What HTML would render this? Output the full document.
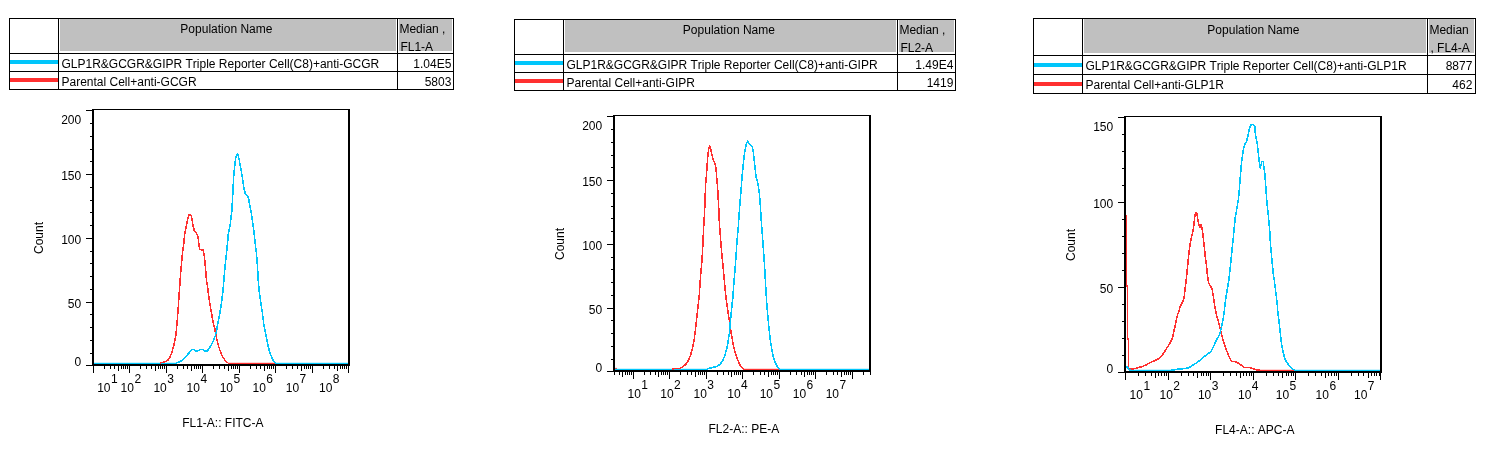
<!DOCTYPE html>
<html><head><meta charset="utf-8"><title>Flow cytometry</title>
<style>
html,body{margin:0;padding:0;background:#fff;}
body{width:1495px;height:449px;position:relative;overflow:hidden;font-family:"Liberation Sans",sans-serif;font-size:12px;color:#000;font-kerning:none;}
svg{position:absolute;left:0;top:0;}
#tx{position:absolute;left:0;top:0;width:1495px;height:449px;will-change:transform;}
.t{position:absolute;white-space:pre;line-height:14px;height:14px;font-size:12px;}
.r{transform:translateX(-100%);}
.c{transform:translateX(-50%);}
.rot{transform:translate(-50%,-50%) rotate(-90deg);}
</style></head><body>
<svg width="1495" height="449" viewBox="0 0 1495 449">
<rect x="60" y="19" width="336" height="32" fill="#c0c0c0"/>
<rect x="399" y="19" width="53" height="32" fill="#c0c0c0"/>
<rect x="9" y="18" width="1" height="72" fill="#000"/>
<rect x="58" y="18" width="1" height="72" fill="#000"/>
<rect x="397" y="18" width="1" height="72" fill="#000"/>
<rect x="453" y="18" width="1" height="72" fill="#000"/>
<rect x="9" y="18" width="445" height="1" fill="#000"/>
<rect x="9" y="53" width="445" height="1" fill="#000"/>
<rect x="9" y="71" width="445" height="1" fill="#000"/>
<rect x="9" y="89" width="445" height="1" fill="#000"/>
<rect x="10" y="60" width="48" height="4" fill="#00c6fb"/>
<rect x="10" y="78" width="48" height="4" fill="#ff3030"/>
<rect x="565" y="20" width="331" height="32" fill="#c0c0c0"/>
<rect x="899" y="20" width="55" height="32" fill="#c0c0c0"/>
<rect x="514" y="19" width="1" height="72" fill="#000"/>
<rect x="563" y="19" width="1" height="72" fill="#000"/>
<rect x="897" y="19" width="1" height="72" fill="#000"/>
<rect x="955" y="19" width="1" height="72" fill="#000"/>
<rect x="514" y="19" width="442" height="1" fill="#000"/>
<rect x="514" y="54" width="442" height="1" fill="#000"/>
<rect x="514" y="72" width="442" height="1" fill="#000"/>
<rect x="514" y="90" width="442" height="1" fill="#000"/>
<rect x="515" y="61" width="48" height="4" fill="#00c6fb"/>
<rect x="515" y="79" width="48" height="4" fill="#ff3030"/>
<rect x="1084" y="19" width="342" height="34" fill="#c0c0c0"/>
<rect x="1429" y="19" width="45" height="34" fill="#c0c0c0"/>
<rect x="1033" y="18" width="1" height="76" fill="#000"/>
<rect x="1082" y="18" width="1" height="76" fill="#000"/>
<rect x="1427" y="18" width="1" height="76" fill="#000"/>
<rect x="1475" y="18" width="1" height="76" fill="#000"/>
<rect x="1033" y="18" width="443" height="1" fill="#000"/>
<rect x="1033" y="55" width="443" height="1" fill="#000"/>
<rect x="1033" y="74" width="443" height="1" fill="#000"/>
<rect x="1033" y="93" width="443" height="1" fill="#000"/>
<rect x="1034" y="63" width="48" height="4" fill="#00c6fb"/>
<rect x="1034" y="82" width="48" height="4" fill="#ff3030"/>
<rect x="94" y="362.8" width="82" height="1.25" fill="#00c6fb"/>
<rect x="228" y="362.8" width="47" height="1.25" fill="#ff3030"/>
<rect x="275" y="362.8" width="73" height="1.25" fill="#00c6fb"/>
<polyline points="160.0,362.9 165.0,361.8 168.0,360.0 170.0,357.0 172.0,352.0 174.0,345.0 175.6,337.0 176.6,328.0 177.1,322.0 178.1,310.0 179.1,295.0 179.8,285.0 180.6,274.0 181.6,262.0 182.6,252.0 183.6,245.0 184.6,235.0 186.1,227.0 187.6,219.0 189.1,215.0 190.1,214.3 191.1,215.5 192.1,220.0 193.1,226.0 194.1,230.0 195.1,231.6 196.7,233.6 197.7,236.0 198.5,240.0 199.0,246.0 199.7,249.0 201.2,249.7 203.2,250.0 204.2,255.0 205.0,263.0 205.8,272.0 206.5,280.0 207.7,288.0 208.5,295.0 210.2,306.0 212.2,317.0 213.2,323.0 214.7,328.0 216.2,337.0 218.2,345.0 220.2,351.0 222.2,356.0 225.2,360.6 227.8,362.9" fill="none" stroke="#ff3030" stroke-width="1.55" stroke-linejoin="round" shape-rendering="crispEdges"/>
<polyline points="176.0,363.0 179.1,362.0 182.1,360.6 185.1,357.6 188.1,354.0 190.6,351.0 192.6,349.3 194.1,349.6 195.6,350.8 198.2,350.8 200.2,349.6 202.7,349.6 204.7,350.9 207.2,350.9 209.2,348.6 211.2,345.0 213.2,341.0 215.2,336.0 216.7,330.0 217.9,323.0 219.2,317.0 221.2,305.0 222.7,293.0 223.7,283.0 224.7,270.0 226.3,255.0 227.8,240.0 228.3,234.0 230.3,224.0 231.8,211.0 232.5,200.0 233.0,190.5 233.6,177.0 234.8,165.0 235.8,157.7 236.8,154.6 237.2,154.2 238.1,155.0 239.2,159.7 240.4,166.4 241.7,173.7 243.0,181.8 244.1,189.0 245.1,193.0 246.1,194.7 247.9,196.2 248.8,199.8 249.6,205.0 250.8,210.0 252.3,220.0 253.8,230.0 254.8,240.0 256.4,253.0 257.4,265.0 258.2,280.0 259.4,293.0 260.9,303.0 262.4,313.0 263.6,323.0 264.9,330.0 266.4,338.0 267.9,345.0 269.4,351.0 271.4,356.6 273.4,360.6 275.4,363.0" fill="none" stroke="#00c6fb" stroke-width="1.55" stroke-linejoin="round" shape-rendering="crispEdges"/>
<rect x="92" y="109" width="2" height="257" fill="#000"/>
<rect x="348" y="109" width="2" height="257" fill="#000"/>
<rect x="92" y="109" width="258" height="1" fill="#000"/>
<rect x="92" y="364" width="258" height="2" fill="#000"/>
<rect x="86" y="365" width="6" height="1" fill="#000"/>
<rect x="90" y="353" width="2" height="1" fill="#000"/>
<rect x="90" y="340" width="2" height="1" fill="#000"/>
<rect x="90" y="327" width="2" height="1" fill="#000"/>
<rect x="90" y="314" width="2" height="1" fill="#000"/>
<rect x="86" y="302" width="6" height="1" fill="#000"/>
<rect x="90" y="289" width="2" height="1" fill="#000"/>
<rect x="90" y="276" width="2" height="1" fill="#000"/>
<rect x="90" y="263" width="2" height="1" fill="#000"/>
<rect x="90" y="251" width="2" height="1" fill="#000"/>
<rect x="86" y="238" width="6" height="1" fill="#000"/>
<rect x="90" y="225" width="2" height="1" fill="#000"/>
<rect x="90" y="212" width="2" height="1" fill="#000"/>
<rect x="90" y="200" width="2" height="1" fill="#000"/>
<rect x="90" y="187" width="2" height="1" fill="#000"/>
<rect x="86" y="174" width="6" height="1" fill="#000"/>
<rect x="90" y="161" width="2" height="1" fill="#000"/>
<rect x="90" y="149" width="2" height="1" fill="#000"/>
<rect x="90" y="136" width="2" height="1" fill="#000"/>
<rect x="90" y="123" width="2" height="1" fill="#000"/>
<rect x="86" y="110" width="6" height="1" fill="#000"/>
<rect x="93" y="366" width="1" height="7" fill="#000"/>
<rect x="104" y="366" width="1" height="3" fill="#000"/>
<rect x="110" y="366" width="1" height="3" fill="#000"/>
<rect x="114" y="366" width="1" height="3" fill="#000"/>
<rect x="118" y="366" width="1" height="5" fill="#000"/>
<rect x="121" y="366" width="1" height="3" fill="#000"/>
<rect x="123" y="366" width="1" height="3" fill="#000"/>
<rect x="125" y="366" width="1" height="3" fill="#000"/>
<rect x="127" y="366" width="1" height="3" fill="#000"/>
<rect x="129" y="366" width="1" height="7" fill="#000"/>
<rect x="140" y="366" width="1" height="3" fill="#000"/>
<rect x="146" y="366" width="1" height="3" fill="#000"/>
<rect x="151" y="366" width="1" height="3" fill="#000"/>
<rect x="155" y="366" width="1" height="5" fill="#000"/>
<rect x="158" y="366" width="1" height="3" fill="#000"/>
<rect x="160" y="366" width="1" height="3" fill="#000"/>
<rect x="162" y="366" width="1" height="3" fill="#000"/>
<rect x="164" y="366" width="1" height="3" fill="#000"/>
<rect x="166" y="366" width="1" height="7" fill="#000"/>
<rect x="177" y="366" width="1" height="3" fill="#000"/>
<rect x="183" y="366" width="1" height="3" fill="#000"/>
<rect x="187" y="366" width="1" height="3" fill="#000"/>
<rect x="191" y="366" width="1" height="5" fill="#000"/>
<rect x="194" y="366" width="1" height="3" fill="#000"/>
<rect x="196" y="366" width="1" height="3" fill="#000"/>
<rect x="198" y="366" width="1" height="3" fill="#000"/>
<rect x="200" y="366" width="1" height="3" fill="#000"/>
<rect x="202" y="366" width="1" height="7" fill="#000"/>
<rect x="213" y="366" width="1" height="3" fill="#000"/>
<rect x="219" y="366" width="1" height="3" fill="#000"/>
<rect x="224" y="366" width="1" height="3" fill="#000"/>
<rect x="228" y="366" width="1" height="5" fill="#000"/>
<rect x="231" y="366" width="1" height="3" fill="#000"/>
<rect x="233" y="366" width="1" height="3" fill="#000"/>
<rect x="235" y="366" width="1" height="3" fill="#000"/>
<rect x="237" y="366" width="1" height="3" fill="#000"/>
<rect x="239" y="366" width="1" height="7" fill="#000"/>
<rect x="250" y="366" width="1" height="3" fill="#000"/>
<rect x="256" y="366" width="1" height="3" fill="#000"/>
<rect x="260" y="366" width="1" height="3" fill="#000"/>
<rect x="264" y="366" width="1" height="5" fill="#000"/>
<rect x="267" y="366" width="1" height="3" fill="#000"/>
<rect x="269" y="366" width="1" height="3" fill="#000"/>
<rect x="271" y="366" width="1" height="3" fill="#000"/>
<rect x="273" y="366" width="1" height="3" fill="#000"/>
<rect x="275" y="366" width="1" height="7" fill="#000"/>
<rect x="286" y="366" width="1" height="3" fill="#000"/>
<rect x="292" y="366" width="1" height="3" fill="#000"/>
<rect x="297" y="366" width="1" height="3" fill="#000"/>
<rect x="301" y="366" width="1" height="5" fill="#000"/>
<rect x="304" y="366" width="1" height="3" fill="#000"/>
<rect x="306" y="366" width="1" height="3" fill="#000"/>
<rect x="308" y="366" width="1" height="3" fill="#000"/>
<rect x="310" y="366" width="1" height="3" fill="#000"/>
<rect x="312" y="366" width="1" height="7" fill="#000"/>
<rect x="323" y="366" width="1" height="3" fill="#000"/>
<rect x="329" y="366" width="1" height="3" fill="#000"/>
<rect x="334" y="366" width="1" height="3" fill="#000"/>
<rect x="337" y="366" width="1" height="5" fill="#000"/>
<rect x="340" y="366" width="1" height="3" fill="#000"/>
<rect x="342" y="366" width="1" height="3" fill="#000"/>
<rect x="344" y="366" width="1" height="3" fill="#000"/>
<rect x="346" y="366" width="1" height="3" fill="#000"/>
<rect x="348" y="366" width="1" height="7" fill="#000"/>
<rect x="615" y="367.9" width="2" height="1" fill="#ff3030"/>
<rect x="615" y="368.8" width="93" height="1.25" fill="#00c6fb"/>
<rect x="743" y="368.8" width="36" height="1.25" fill="#ff3030"/>
<rect x="779" y="368.8" width="90" height="1.25" fill="#00c6fb"/>
<polyline points="672.0,368.9 680.0,368.3 683.0,366.6 686.0,364.1 688.6,360.1 690.6,355.0 692.6,348.0 694.1,340.0 695.6,328.0 697.6,310.0 699.3,295.0 699.9,285.0 701.1,270.0 702.0,260.0 702.6,250.0 703.6,228.0 704.6,212.0 705.1,198.0 705.6,185.0 706.4,176.0 706.9,168.0 707.9,155.0 708.8,148.0 709.6,146.3 710.6,148.5 711.6,153.0 712.6,157.6 713.8,161.0 715.1,164.0 716.0,169.0 716.6,176.0 717.4,185.0 718.2,198.0 718.8,209.0 719.2,220.0 719.9,230.0 721.2,247.0 722.2,258.0 723.2,268.0 724.7,285.0 726.0,298.0 727.7,310.0 729.7,323.0 731.2,333.0 732.4,340.0 733.7,347.0 735.7,354.0 738.2,361.0 740.7,366.6 743.2,368.9" fill="none" stroke="#ff3030" stroke-width="1.55" stroke-linejoin="round" shape-rendering="crispEdges"/>
<polyline points="707.1,368.8 712.1,367.6 716.2,366.6 719.7,364.6 722.2,361.6 724.7,356.0 726.7,349.0 728.2,341.0 729.4,333.0 730.2,323.0 731.7,308.0 733.0,296.0 733.7,285.0 735.0,270.0 735.9,258.0 736.7,245.0 738.2,228.0 739.1,215.0 739.5,209.0 740.5,197.0 741.4,185.0 742.0,178.0 742.4,173.0 743.2,165.0 744.2,156.0 745.2,149.0 746.5,143.5 747.5,141.3 748.8,143.0 750.3,144.5 752.3,146.5 753.1,151.0 754.1,159.0 755.1,168.0 755.9,176.0 757.8,183.0 759.1,191.0 760.0,201.0 760.8,213.0 761.8,228.0 763.1,245.0 764.0,258.0 764.8,270.0 765.8,288.0 766.5,300.0 767.3,310.0 768.8,327.0 770.3,340.0 771.8,349.0 773.3,357.0 775.4,363.0 777.9,367.6 779.4,369.0" fill="none" stroke="#00c6fb" stroke-width="1.55" stroke-linejoin="round" shape-rendering="crispEdges"/>
<rect x="613" y="115" width="2" height="257" fill="#000"/>
<rect x="869" y="115" width="2" height="257" fill="#000"/>
<rect x="613" y="115" width="258" height="1" fill="#000"/>
<rect x="613" y="370" width="258" height="2" fill="#000"/>
<rect x="607" y="371" width="6" height="1" fill="#000"/>
<rect x="611" y="359" width="2" height="1" fill="#000"/>
<rect x="611" y="346" width="2" height="1" fill="#000"/>
<rect x="611" y="333" width="2" height="1" fill="#000"/>
<rect x="611" y="320" width="2" height="1" fill="#000"/>
<rect x="607" y="308" width="6" height="1" fill="#000"/>
<rect x="611" y="295" width="2" height="1" fill="#000"/>
<rect x="611" y="282" width="2" height="1" fill="#000"/>
<rect x="611" y="269" width="2" height="1" fill="#000"/>
<rect x="611" y="257" width="2" height="1" fill="#000"/>
<rect x="607" y="244" width="6" height="1" fill="#000"/>
<rect x="611" y="231" width="2" height="1" fill="#000"/>
<rect x="611" y="218" width="2" height="1" fill="#000"/>
<rect x="611" y="206" width="2" height="1" fill="#000"/>
<rect x="611" y="193" width="2" height="1" fill="#000"/>
<rect x="607" y="180" width="6" height="1" fill="#000"/>
<rect x="611" y="167" width="2" height="1" fill="#000"/>
<rect x="611" y="155" width="2" height="1" fill="#000"/>
<rect x="611" y="142" width="2" height="1" fill="#000"/>
<rect x="611" y="129" width="2" height="1" fill="#000"/>
<rect x="607" y="116" width="6" height="1" fill="#000"/>
<rect x="614" y="372" width="1" height="3" fill="#000"/>
<rect x="619" y="372" width="1" height="3" fill="#000"/>
<rect x="622" y="372" width="1" height="5" fill="#000"/>
<rect x="625" y="372" width="1" height="3" fill="#000"/>
<rect x="627" y="372" width="1" height="3" fill="#000"/>
<rect x="629" y="372" width="1" height="3" fill="#000"/>
<rect x="631" y="372" width="1" height="3" fill="#000"/>
<rect x="633" y="372" width="1" height="7" fill="#000"/>
<rect x="644" y="372" width="1" height="3" fill="#000"/>
<rect x="650" y="372" width="1" height="3" fill="#000"/>
<rect x="655" y="372" width="1" height="3" fill="#000"/>
<rect x="658" y="372" width="1" height="5" fill="#000"/>
<rect x="661" y="372" width="1" height="3" fill="#000"/>
<rect x="663" y="372" width="1" height="3" fill="#000"/>
<rect x="665" y="372" width="1" height="3" fill="#000"/>
<rect x="667" y="372" width="1" height="3" fill="#000"/>
<rect x="669" y="372" width="1" height="7" fill="#000"/>
<rect x="680" y="372" width="1" height="3" fill="#000"/>
<rect x="687" y="372" width="1" height="3" fill="#000"/>
<rect x="691" y="372" width="1" height="3" fill="#000"/>
<rect x="695" y="372" width="1" height="5" fill="#000"/>
<rect x="698" y="372" width="1" height="3" fill="#000"/>
<rect x="700" y="372" width="1" height="3" fill="#000"/>
<rect x="702" y="372" width="1" height="3" fill="#000"/>
<rect x="704" y="372" width="1" height="3" fill="#000"/>
<rect x="706" y="372" width="1" height="7" fill="#000"/>
<rect x="717" y="372" width="1" height="3" fill="#000"/>
<rect x="723" y="372" width="1" height="3" fill="#000"/>
<rect x="728" y="372" width="1" height="3" fill="#000"/>
<rect x="731" y="372" width="1" height="5" fill="#000"/>
<rect x="734" y="372" width="1" height="3" fill="#000"/>
<rect x="736" y="372" width="1" height="3" fill="#000"/>
<rect x="738" y="372" width="1" height="3" fill="#000"/>
<rect x="740" y="372" width="1" height="3" fill="#000"/>
<rect x="742" y="372" width="1" height="7" fill="#000"/>
<rect x="753" y="372" width="1" height="3" fill="#000"/>
<rect x="760" y="372" width="1" height="3" fill="#000"/>
<rect x="764" y="372" width="1" height="3" fill="#000"/>
<rect x="768" y="372" width="1" height="5" fill="#000"/>
<rect x="771" y="372" width="1" height="3" fill="#000"/>
<rect x="773" y="372" width="1" height="3" fill="#000"/>
<rect x="775" y="372" width="1" height="3" fill="#000"/>
<rect x="777" y="372" width="1" height="3" fill="#000"/>
<rect x="779" y="372" width="1" height="7" fill="#000"/>
<rect x="790" y="372" width="1" height="3" fill="#000"/>
<rect x="796" y="372" width="1" height="3" fill="#000"/>
<rect x="801" y="372" width="1" height="3" fill="#000"/>
<rect x="804" y="372" width="1" height="5" fill="#000"/>
<rect x="807" y="372" width="1" height="3" fill="#000"/>
<rect x="809" y="372" width="1" height="3" fill="#000"/>
<rect x="811" y="372" width="1" height="3" fill="#000"/>
<rect x="813" y="372" width="1" height="3" fill="#000"/>
<rect x="815" y="372" width="1" height="7" fill="#000"/>
<rect x="826" y="372" width="1" height="3" fill="#000"/>
<rect x="833" y="372" width="1" height="3" fill="#000"/>
<rect x="837" y="372" width="1" height="3" fill="#000"/>
<rect x="841" y="372" width="1" height="5" fill="#000"/>
<rect x="844" y="372" width="1" height="3" fill="#000"/>
<rect x="846" y="372" width="1" height="3" fill="#000"/>
<rect x="848" y="372" width="1" height="3" fill="#000"/>
<rect x="850" y="372" width="1" height="3" fill="#000"/>
<rect x="852" y="372" width="1" height="7" fill="#000"/>
<rect x="863" y="372" width="1" height="3" fill="#000"/>
<rect x="870" y="372" width="1" height="3" fill="#000"/>
<rect x="1130" y="369.8" width="42" height="1.25" fill="#00c6fb"/>
<rect x="1259" y="369.8" width="35" height="1.25" fill="#ff3030"/>
<rect x="1294" y="369.8" width="86" height="1.25" fill="#00c6fb"/>
<polyline points="1126.5,215.0 1126.6,285.0 1127.3,287.0 1127.4,337.0 1128.3,340.0 1128.6,369.4 1130.5,369.0 1135.0,368.6 1138.0,367.6 1142.0,366.6 1146.0,365.0 1150.0,362.6 1154.1,361.0 1158.1,359.0 1161.1,356.6 1164.1,352.6 1167.2,347.5 1169.7,343.5 1171.7,339.5 1172.9,336.0 1174.2,330.0 1175.7,323.0 1177.5,315.0 1178.6,312.0 1180.1,307.0 1182.1,303.0 1184.1,298.0 1185.1,289.0 1186.3,279.0 1187.1,271.0 1187.9,263.0 1188.9,253.0 1190.1,244.0 1191.6,237.0 1193.0,231.0 1194.1,223.0 1194.8,216.0 1195.6,213.3 1196.2,212.4 1197.0,214.0 1197.7,219.0 1198.5,223.0 1199.2,226.0 1200.0,227.0 1200.7,224.6 1201.4,225.0 1202.0,228.0 1202.6,232.0 1203.2,237.0 1204.2,246.0 1205.2,256.0 1206.4,265.0 1207.2,273.0 1207.7,277.0 1208.7,283.0 1210.2,285.6 1212.0,288.6 1213.0,294.0 1214.0,301.0 1215.2,309.0 1216.8,316.0 1218.8,323.0 1220.8,331.0 1222.3,337.0 1223.3,341.0 1225.3,347.0 1227.9,354.0 1230.4,359.6 1231.9,361.6 1235.4,361.6 1238.9,363.6 1241.9,365.6 1244.4,367.6 1249.4,367.6 1252.4,368.6 1256.4,369.8 1260.0,370.3" fill="none" stroke="#ff3030" stroke-width="1.55" stroke-linejoin="round" shape-rendering="crispEdges"/>
<polyline points="1126.0,366.6 1127.5,367.0 1129.0,369.6 1130.5,370.3 1171.2,370.3 1179.2,369.0 1185.2,368.6 1189.2,367.6 1192.2,365.6 1196.3,363.0 1200.3,360.0 1204.3,356.6 1208.3,353.6 1211.3,351.0 1213.3,347.0 1215.3,342.5 1217.3,338.5 1219.3,335.0 1220.8,330.0 1222.3,323.0 1223.6,316.0 1224.6,308.0 1225.8,298.0 1227.3,289.0 1228.8,280.0 1230.3,267.0 1231.8,252.0 1233.1,240.0 1234.3,227.0 1235.3,217.0 1236.8,209.0 1238.3,200.0 1239.2,191.0 1239.8,183.0 1240.4,176.0 1241.1,167.0 1242.1,158.0 1243.0,152.0 1243.6,149.0 1244.6,144.6 1246.2,142.6 1247.2,139.0 1248.2,134.6 1249.2,129.6 1250.2,126.0 1251.2,124.7 1252.2,124.3 1253.7,125.2 1254.7,126.0 1255.0,131.0 1256.0,138.0 1257.2,143.0 1258.0,150.0 1258.7,157.0 1259.4,163.0 1260.2,168.0 1261.2,165.0 1261.7,161.5 1263.2,161.5 1263.7,166.0 1264.7,173.0 1265.4,181.0 1266.0,190.0 1266.9,202.0 1268.2,214.0 1269.2,225.0 1269.8,232.0 1270.4,243.0 1271.6,256.0 1272.6,267.0 1273.2,273.0 1274.4,281.0 1275.9,293.0 1277.2,304.0 1277.8,312.0 1279.1,322.0 1280.1,331.0 1281.0,340.0 1281.8,346.0 1283.1,352.0 1284.6,358.0 1286.2,361.6 1289.2,365.6 1292.2,368.6 1294.7,370.3" fill="none" stroke="#00c6fb" stroke-width="1.55" stroke-linejoin="round" shape-rendering="crispEdges"/>
<rect x="1124" y="116" width="2" height="257" fill="#000"/>
<rect x="1380" y="116" width="2" height="257" fill="#000"/>
<rect x="1124" y="116" width="258" height="1" fill="#000"/>
<rect x="1124" y="371" width="258" height="2" fill="#000"/>
<rect x="1118" y="372" width="6" height="1" fill="#000"/>
<rect x="1122" y="355" width="2" height="1" fill="#000"/>
<rect x="1122" y="338" width="2" height="1" fill="#000"/>
<rect x="1122" y="321" width="2" height="1" fill="#000"/>
<rect x="1122" y="304" width="2" height="1" fill="#000"/>
<rect x="1118" y="287" width="6" height="1" fill="#000"/>
<rect x="1122" y="270" width="2" height="1" fill="#000"/>
<rect x="1122" y="253" width="2" height="1" fill="#000"/>
<rect x="1122" y="236" width="2" height="1" fill="#000"/>
<rect x="1122" y="219" width="2" height="1" fill="#000"/>
<rect x="1118" y="202" width="6" height="1" fill="#000"/>
<rect x="1122" y="185" width="2" height="1" fill="#000"/>
<rect x="1122" y="168" width="2" height="1" fill="#000"/>
<rect x="1122" y="151" width="2" height="1" fill="#000"/>
<rect x="1122" y="134" width="2" height="1" fill="#000"/>
<rect x="1118" y="117" width="6" height="1" fill="#000"/>
<rect x="1125" y="373" width="1" height="7" fill="#000"/>
<rect x="1138" y="373" width="1" height="3" fill="#000"/>
<rect x="1145" y="373" width="1" height="3" fill="#000"/>
<rect x="1151" y="373" width="1" height="3" fill="#000"/>
<rect x="1155" y="373" width="1" height="5" fill="#000"/>
<rect x="1158" y="373" width="1" height="3" fill="#000"/>
<rect x="1161" y="373" width="1" height="3" fill="#000"/>
<rect x="1164" y="373" width="1" height="3" fill="#000"/>
<rect x="1166" y="373" width="1" height="3" fill="#000"/>
<rect x="1168" y="373" width="1" height="7" fill="#000"/>
<rect x="1181" y="373" width="1" height="3" fill="#000"/>
<rect x="1188" y="373" width="1" height="3" fill="#000"/>
<rect x="1193" y="373" width="1" height="3" fill="#000"/>
<rect x="1197" y="373" width="1" height="5" fill="#000"/>
<rect x="1201" y="373" width="1" height="3" fill="#000"/>
<rect x="1203" y="373" width="1" height="3" fill="#000"/>
<rect x="1206" y="373" width="1" height="3" fill="#000"/>
<rect x="1208" y="373" width="1" height="3" fill="#000"/>
<rect x="1210" y="373" width="1" height="7" fill="#000"/>
<rect x="1223" y="373" width="1" height="3" fill="#000"/>
<rect x="1230" y="373" width="1" height="3" fill="#000"/>
<rect x="1236" y="373" width="1" height="3" fill="#000"/>
<rect x="1240" y="373" width="1" height="5" fill="#000"/>
<rect x="1243" y="373" width="1" height="3" fill="#000"/>
<rect x="1246" y="373" width="1" height="3" fill="#000"/>
<rect x="1249" y="373" width="1" height="3" fill="#000"/>
<rect x="1251" y="373" width="1" height="3" fill="#000"/>
<rect x="1253" y="373" width="1" height="7" fill="#000"/>
<rect x="1266" y="373" width="1" height="3" fill="#000"/>
<rect x="1273" y="373" width="1" height="3" fill="#000"/>
<rect x="1278" y="373" width="1" height="3" fill="#000"/>
<rect x="1282" y="373" width="1" height="5" fill="#000"/>
<rect x="1286" y="373" width="1" height="3" fill="#000"/>
<rect x="1288" y="373" width="1" height="3" fill="#000"/>
<rect x="1291" y="373" width="1" height="3" fill="#000"/>
<rect x="1293" y="373" width="1" height="3" fill="#000"/>
<rect x="1295" y="373" width="1" height="7" fill="#000"/>
<rect x="1308" y="373" width="1" height="3" fill="#000"/>
<rect x="1315" y="373" width="1" height="3" fill="#000"/>
<rect x="1321" y="373" width="1" height="3" fill="#000"/>
<rect x="1325" y="373" width="1" height="5" fill="#000"/>
<rect x="1328" y="373" width="1" height="3" fill="#000"/>
<rect x="1331" y="373" width="1" height="3" fill="#000"/>
<rect x="1334" y="373" width="1" height="3" fill="#000"/>
<rect x="1336" y="373" width="1" height="3" fill="#000"/>
<rect x="1338" y="373" width="1" height="7" fill="#000"/>
<rect x="1351" y="373" width="1" height="3" fill="#000"/>
<rect x="1358" y="373" width="1" height="3" fill="#000"/>
<rect x="1363" y="373" width="1" height="3" fill="#000"/>
<rect x="1368" y="373" width="1" height="5" fill="#000"/>
<rect x="1371" y="373" width="1" height="3" fill="#000"/>
<rect x="1374" y="373" width="1" height="3" fill="#000"/>
<rect x="1376" y="373" width="1" height="3" fill="#000"/>
<rect x="1379" y="373" width="1" height="3" fill="#000"/>
<rect x="1380" y="373" width="1" height="7" fill="#000"/>
</svg>
<div id="tx">
<div class="t c" style="left:226.4px;top:22px">Population Name</div>
<div class="t" style="left:399.4px;top:22px">Median ,</div>
<div class="t" style="left:400.4px;top:40px">FL1-A</div>
<div class="t" style="left:61.5px;top:57px">GLP1R&amp;GCGR&amp;GIPR Triple Reporter Cell(C8)+anti-GCGR</div>
<div class="t" style="left:61.5px;top:75px">Parental Cell+anti-GCGR</div>
<div class="t r" style="left:451.4px;top:57px">1.04E5</div>
<div class="t r" style="left:451.4px;top:75px">5803</div>
<div class="t c" style="left:728.9px;top:23px">Population Name</div>
<div class="t" style="left:899.4px;top:23px">Median ,</div>
<div class="t" style="left:900.4px;top:41px">FL2-A</div>
<div class="t" style="left:566.5px;top:58px">GLP1R&amp;GCGR&amp;GIPR Triple Reporter Cell(C8)+anti-GIPR</div>
<div class="t" style="left:566.5px;top:76px">Parental Cell+anti-GIPR</div>
<div class="t r" style="left:953.4px;top:58px">1.49E4</div>
<div class="t r" style="left:953.4px;top:76px">1419</div>
<div class="t c" style="left:1253.4px;top:23px">Population Name</div>
<div class="t" style="left:1429.4px;top:23px">Median</div>
<div class="t" style="left:1430.4px;top:41px">, FL4-A</div>
<div class="t" style="left:1085.5px;top:58px;transform:translate(0,0.50px)">GLP1R&amp;GCGR&amp;GIPR Triple Reporter Cell(C8)+anti-GLP1R</div>
<div class="t" style="left:1085.5px;top:78px">Parental Cell+anti-GLP1R</div>
<div class="t r" style="left:1472.4px;top:58px;transform:translate(-100%,0.50px)">8877</div>
<div class="t r" style="left:1472.4px;top:78px">462</div>
<div class="t r" style="left:81.2px;top:355px">0</div>
<div class="t r" style="left:81.2px;top:297px">50</div>
<div class="t r" style="left:81.2px;top:233px">100</div>
<div class="t r" style="left:81.2px;top:169px">150</div>
<div class="t r" style="left:81.2px;top:113px">200</div>
<div class="t" style="left:97.2px;top:381px">10</div>
<div class="t" style="left:111.0px;top:372px">1</div>
<div class="t" style="left:120.6px;top:381px">10</div>
<div class="t" style="left:134.4px;top:372px">2</div>
<div class="t" style="left:153.4px;top:381px">10</div>
<div class="t" style="left:167.2px;top:372px">3</div>
<div class="t" style="left:186.6px;top:381px">10</div>
<div class="t" style="left:200.4px;top:372px">4</div>
<div class="t" style="left:219.7px;top:381px">10</div>
<div class="t" style="left:233.5px;top:372px">5</div>
<div class="t" style="left:252.5px;top:381px">10</div>
<div class="t" style="left:266.3px;top:372px">6</div>
<div class="t" style="left:285.8px;top:381px">10</div>
<div class="t" style="left:299.6px;top:372px">7</div>
<div class="t" style="left:319.0px;top:381px">10</div>
<div class="t" style="left:332.8px;top:372px">8</div>
<div class="t c" style="left:222.8px;top:416px">FL1-A:: FITC-A</div>
<div class="t rot" style="left:39.3px;top:237.6px">Count</div>
<div class="t r" style="left:602.2px;top:361px">0</div>
<div class="t r" style="left:602.2px;top:303px">50</div>
<div class="t r" style="left:602.2px;top:239px">100</div>
<div class="t r" style="left:602.2px;top:175px">150</div>
<div class="t r" style="left:602.2px;top:119px">200</div>
<div class="t" style="left:627.5px;top:387px">10</div>
<div class="t" style="left:641.3px;top:378px">1</div>
<div class="t" style="left:660.3px;top:387px">10</div>
<div class="t" style="left:674.1px;top:378px">2</div>
<div class="t" style="left:693.5px;top:387px">10</div>
<div class="t" style="left:707.3px;top:378px">3</div>
<div class="t" style="left:727.3px;top:387px">10</div>
<div class="t" style="left:741.1px;top:378px">4</div>
<div class="t" style="left:759.7px;top:387px">10</div>
<div class="t" style="left:773.5px;top:378px">5</div>
<div class="t" style="left:792.8px;top:387px">10</div>
<div class="t" style="left:806.6px;top:378px">6</div>
<div class="t" style="left:825.7px;top:387px">10</div>
<div class="t" style="left:839.5px;top:378px">7</div>
<div class="t c" style="left:743.8px;top:422px">FL2-A:: PE-A</div>
<div class="t rot" style="left:560.3px;top:243.6px">Count</div>
<div class="t r" style="left:1113.2px;top:362px">0</div>
<div class="t r" style="left:1113.2px;top:282px">50</div>
<div class="t r" style="left:1113.2px;top:197px">100</div>
<div class="t r" style="left:1113.2px;top:120px">150</div>
<div class="t" style="left:1129.6px;top:388px">10</div>
<div class="t" style="left:1143.4px;top:379px">1</div>
<div class="t" style="left:1159.5px;top:388px">10</div>
<div class="t" style="left:1173.3px;top:379px">2</div>
<div class="t" style="left:1197.9px;top:388px">10</div>
<div class="t" style="left:1211.7px;top:379px">3</div>
<div class="t" style="left:1238.0px;top:388px">10</div>
<div class="t" style="left:1251.8px;top:379px">4</div>
<div class="t" style="left:1275.8px;top:388px">10</div>
<div class="t" style="left:1289.6px;top:379px">5</div>
<div class="t" style="left:1315.6px;top:388px">10</div>
<div class="t" style="left:1329.4px;top:379px">6</div>
<div class="t" style="left:1354.0px;top:388px">10</div>
<div class="t" style="left:1367.8px;top:379px">7</div>
<div class="t c" style="left:1254.8px;top:423px">FL4-A:: APC-A</div>
<div class="t rot" style="left:1071.3px;top:244.6px">Count</div>
</div>
</body></html>
